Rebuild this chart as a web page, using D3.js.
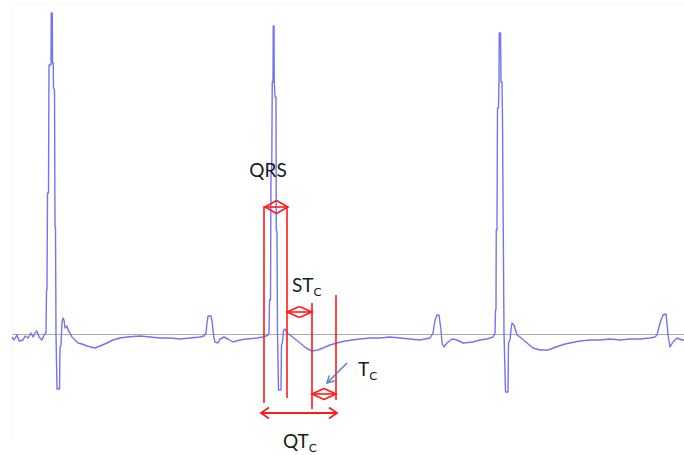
<!DOCTYPE html>
<html>
<head>
<meta charset="utf-8">
<script src="https://cdn.jsdelivr.net/npm/d3@7"></script>
<style>
html,body{margin:0;padding:0;background:#fff;}
svg{display:block;}
text{font-family:Lato,"Open Sans",sans-serif;fill:#1a1a1a;}
</style>
</head>
<body>
<svg id="chart" width="684" height="455"></svg>
<script>
// ECG trace: time (ms) and voltage (mV)
const ecgTime = [0,8,20,28,44,52,64,76,84,92,100,108,120,128,136,138,140,142,146,148,156,157,161,162,165,166,170,172,174,176,180,190,192,196,200,204,208,212,220,224,232,240,252,264,280,300,332,352,380,404,432,460,512,552,592,632,672,712,752,768,776,780,784,796,800,804,808,812,824,832,848,864,884,912,940,980,1004,1016,1024,1028,1030,1034,1036,1039,1041,1044,1045,1048,1049,1052,1056,1057,1060,1062,1066,1076,1078,1082,1086,1092,1100,1112,1132,1152,1176,1200,1224,1244,1272,1300,1332,1360,1392,1432,1472,1512,1552,1592,1632,1672,1684,1692,1700,1708,1716,1720,1728,1740,1760,1780,1804,1844,1872,1900,1924,1932,1934,1936,1937,1940,1942,1946,1948,1949,1954,1956,1960,1962,1965,1968,1974,1984,1986,1992,1996,2000,2008,2020,2032,2060,2084,2112,2144,2176,2212,2252,2272,2312,2352,2392,2432,2472,2512,2552,2572,2580,2592,2604,2616,2620,2624,2632,2644,2660,2680,2688];
const ecgMv = [-0.03,-0.06,-0.01,-0.07,-0.06,-0.02,-0.04,0.01,-0.03,0.01,0.03,-0.03,-0.06,-0.01,0.01,0.44,0.44,1.41,1.41,2.69,2.69,3.21,3.21,2.71,2.71,2.46,2.44,1.07,1.07,0.01,-0.55,-0.55,-0.13,-0.11,0.12,0.16,0.14,0.06,0.08,0.04,0.01,-0.03,-0.06,-0.09,-0.10,-0.12,-0.14,-0.12,-0.09,-0.06,-0.04,-0.03,-0.02,-0.03,-0.04,-0.04,-0.05,-0.04,-0.03,-0.02,0.01,0.11,0.18,0.18,0.13,0.04,-0.04,-0.08,-0.09,-0.05,-0.03,-0.05,-0.08,-0.06,-0.05,-0.04,-0.03,-0.02,-0.01,0.01,0.34,0.34,1.64,1.64,2.52,2.52,3.08,3.08,2.52,2.37,2.37,1.04,1.02,0.01,-0.56,-0.56,-0.11,-0.08,0.04,0.05,0.01,-0.01,-0.05,-0.09,-0.14,-0.17,-0.16,-0.14,-0.11,-0.09,-0.07,-0.06,-0.05,-0.04,-0.04,-0.03,-0.04,-0.05,-0.06,-0.04,0.01,0.14,0.19,0.19,0.04,-0.09,-0.13,-0.09,-0.05,-0.06,-0.09,-0.08,-0.06,-0.05,-0.03,0.01,0.24,0.24,1.04,1.04,2.26,2.26,2.54,3.01,3.01,2.52,2.52,2.14,1.07,0.01,-0.58,-0.58,-0.09,-0.06,0.04,0.11,0.09,-0.01,-0.03,-0.09,-0.14,-0.16,-0.16,-0.13,-0.10,-0.08,-0.07,-0.06,-0.06,-0.05,-0.06,-0.05,-0.05,-0.04,-0.03,-0.01,0.11,0.19,0.20,0.11,-0.01,-0.13,-0.08,-0.04,-0.06,-0.06];

// Interval markers (ms) and their vertical extents (mV)
const markerTime = [1008, 1100, 1200, 1296];
const markerTop  = [1.28, 1.28, 0.31, 0.39];
const markerBot  = [-0.69, -0.64, -0.75, -0.66];

// Interval arrows: label, start, end (ms), level (mV)
const intervalNames = ["QRS", "ST", "T", "QT"];
const intervalStart = [1012, 1100, 1200, 996];
const intervalEnd   = [1104, 1200, 1296, 1300];
const intervalLevel = [1.27, 0.22, -0.60, -0.79];

// Labels: main text, subscript, position (ms, mV)
const labelMain = ["QRS", "ST", "T", "QT"];
const labelSub  = ["", "C", "C", "C"];
const labelTime = [1024, 1120, 1384, 1084];
const labelMv   = [1.57, 0.42, -0.42, -1.14];

// Pointer arrow (ms, mV)
const pointerFrom = [1340, -0.29];
const pointerTo   = [1260, -0.49];

const svg = d3.select("#chart");
const x = d3.scaleLinear().domain([0, 2688]).range([12, 684]);
const y = d3.scaleLinear().domain([-1, 3]).range([434, 34]);

// very faint frame
svg.append("line").attr("x1",12.5).attr("x2",12.5).attr("y1",4).attr("y2",438)
  .attr("stroke","#f7f7f7").attr("stroke-width",1);
svg.append("line").attr("x1",12).attr("x2",684).attr("y1",4.5).attr("y2",4.5)
  .attr("stroke","#f9f9f9").attr("stroke-width",1);

// baseline
svg.append("line")
  .attr("x1", x(0)).attr("x2", x(2688))
  .attr("y1", Math.round(y(0))+0.5).attr("y2", Math.round(y(0))+0.5)
  .attr("stroke", "#adadad").attr("stroke-width", 1);

// ECG trace
const pts = ecgTime.map((t,i)=>[t, ecgMv[i]]);
svg.append("path")
  .datum(pts)
  .attr("d", d3.line().x(d=>x(d[0])).y(d=>y(d[1])))
  .attr("fill","none")
  .attr("stroke","#7474ee")
  .attr("stroke-width",1.4)
  .attr("stroke-linejoin","round");

const red = "#ff1a1a";
// markers
markerTime.forEach((t,i)=>{
  svg.append("line")
    .attr("x1", x(t)).attr("x2", x(t))
    .attr("y1", y(markerTop[i])).attr("y2", y(markerBot[i]))
    .attr("stroke", red).attr("stroke-width", 1.6);
});

// interval arrows
intervalNames.forEach((n,i)=>{
  const x1 = x(intervalStart[i]), x2 = x(intervalEnd[i]), yy = y(intervalLevel[i]);
  const g = svg.append("g").attr("stroke", red).attr("fill","none")
    .attr("stroke-width", n==="QT" ? 1.8 : 1.6).attr("stroke-linejoin","miter");
  g.append("line").attr("x1",x1).attr("x2",x2).attr("y1",yy).attr("y2",yy);
  let wl, wh;
  if (n === "QT") { wl = 8; wh = 5.5; }
  else { wl = (x2-x1)/2; wh = n==="QRS" ? 6.5 : 5.5; }
  g.append("path").attr("d", `M${x1+wl},${yy-wh}L${x1},${yy}L${x1+wl},${yy+wh}`);
  g.append("path").attr("d", `M${x2-wl},${yy-wh}L${x2},${yy}L${x2-wl},${yy+wh}`);
});

// pointer arrow
{
  const fx = x(pointerFrom[0]), fy = y(pointerFrom[1]);
  const tx = x(pointerTo[0]), ty = y(pointerTo[1]);
  const g = svg.append("g").attr("stroke","#4f81bd").attr("stroke-width",1.4).attr("fill","none");
  g.append("line").attr("x1",fx).attr("y1",fy).attr("x2",tx).attr("y2",ty);
  const ang = Math.atan2(ty-fy, tx-fx), L = 8, a = 0.5;
  g.append("path").attr("d",
    `M${tx - L*Math.cos(ang-a)},${ty - L*Math.sin(ang-a)}L${tx},${ty}L${tx - L*Math.cos(ang+a)},${ty - L*Math.sin(ang+a)}`);
}

// labels
labelMain.forEach((m,i)=>{
  const t = svg.append("text")
    .attr("x", x(labelTime[i])).attr("y", y(labelMv[i]))
    .attr("font-size", 19)
    .attr("text-anchor", labelSub[i] ? "start" : "middle");
  t.append("tspan").text(m);
  if (labelSub[i]) t.append("tspan").attr("font-size", 12).attr("dy", 4).text(labelSub[i]);
});
</script>
</body>
</html>
